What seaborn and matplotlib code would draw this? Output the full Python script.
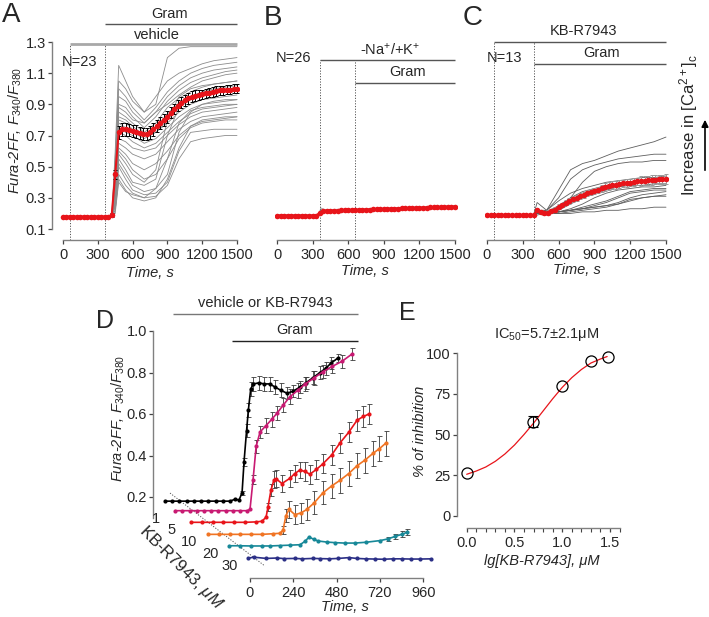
import numpy as np
import pandas as pd
import matplotlib
matplotlib.use("Agg")
import matplotlib.pyplot as plt
import seaborn as sns

# ---------------- data ----------------
# A: vehicle at 60 s, gramicidin at 360 s, single cells (N=23)
a_time = [0, 420, 450, 480, 540, 600, 700, 800, 900, 1000, 1100, 1200, 1300, 1400, 1500]
a_cells = [
    [.18, .18, .60, 1.15, 1.05, .95, .85, .90, 1.20, 1.26, 1.27, 1.27, 1.27, 1.27, 1.27],
    [.18, .18, .55, 1.05, 1.00, .92, .85, .95, 1.05, 1.10, 1.13, 1.16, 1.18, 1.19, 1.20],
    [.18, .18, .50, 1.00, .95, .88, .80, .88, .98, 1.05, 1.10, 1.13, 1.15, 1.16, 1.17],
    [.18, .18, .45, .95, .92, .85, .78, .85, .95, 1.02, 1.07, 1.10, 1.12, 1.13, 1.14],
    [.18, .18, .45, .90, .88, .82, .75, .82, .92, .99, 1.04, 1.07, 1.09, 1.11, 1.12],
    [.18, .18, .40, .88, .85, .80, .78, .85, .90, .96, 1.01, 1.05, 1.07, 1.09, 1.10],
    [.18, .18, .40, .85, .82, .78, .72, .78, .88, .94, .98, 1.01, 1.03, 1.04, 1.05],
    [.18, .18, .40, .82, .80, .76, .70, .75, .84, .91, .95, .98, 1.00, 1.01, 1.02],
    [.18, .18, .38, .80, .78, .74, .70, .72, .80, .88, .93, .96, .97, .98, .99],
    [.18, .18, .35, .78, .75, .72, .68, .72, .78, .85, .90, .93, .94, .95, .96],
    [.18, .18, .35, .75, .72, .70, .65, .68, .75, .82, .87, .90, .91, .92, .93],
    [.18, .18, .33, .72, .70, .66, .62, .65, .72, .79, .84, .87, .88, .89, .90],
    [.18, .18, .30, .68, .66, .62, .60, .62, .70, .77, .82, .85, .86, .87, .88],
    [.18, .18, .30, .65, .62, .58, .55, .58, .66, .74, .79, .82, .83, .84, .85],
    [.18, .18, .28, .62, .58, .52, .48, .52, .60, .70, .76, .79, .80, .81, .82],
    [.18, .18, .28, .60, .55, .48, .42, .45, .55, .68, .75, .78, .79, .80, .80],
    [.18, .18, .26, .58, .52, .45, .40, .48, .80, .95, 1.00, 1.02, 1.03, 1.04, 1.05],
    [.18, .18, .26, .55, .48, .40, .38, .42, .70, .88, .95, .98, .99, .99, 1.00],
    [.18, .18, .25, .52, .45, .38, .34, .36, .45, .72, .85, .90, .92, .93, .93],
    [.18, .18, .24, .50, .42, .35, .32, .33, .40, .60, .72, .73, .74, .74, .74],
    [.18, .18, .22, .45, .38, .33, .30, .31, .38, .55, .66, .68, .69, .70, .70],
    [.18, .18, .22, .42, .35, .30, .28, .30, .42, .62, .76, .80, .81, .82, .82],
    [.18, .18, .20, .40, .34, .32, .30, .36, .55, .78, .86, .88, .89, .90, .90],
]
mean_time = list(range(0, 1501, 30))
a_mean = [.18, .18, .18, .18, .18, .18, .18, .18, .18, .18, .18, .18, .18, .18,
          .19, .45, .72, .74, .74, .735, .73, .725, .715, .71, .71, .72, .74, .76, .78, .80,
          .82, .845, .87, .89, .91, .925, .94, .95, .955, .96, .965, .97, .975, .98, .985,
          .99, .99, .995, .995, 1.0, 1.0]
a_sem = [0, 0, 0, 0, 0, 0, 0, 0, 0, 0, 0, 0, 0, 0,
         .01, .03, .04, .04, .04, .04, .04, .04, .04, .04, .04, .04, .04, .04, .04, .04,
         .04, .035, .035, .035, .035, .035, .035, .035, .035, .03, .03, .03, .03, .03, .03,
         .03, .03, .03, .03, .03, .03]

# B: -Na+/+K+ at 360 s, gramicidin at 660 s (N=26)
b_time = [0, 350, 370, 400, 660, 900, 1100, 1300, 1500]
b_cells = [
    [.19, .19, .235, .225, .228, .235, .24, .245, .25],
    [.18, .18, .21, .21, .215, .22, .225, .23, .235],
    [.185, .185, .215, .215, .22, .23, .235, .24, .245],
    [.19, .19, .22, .222, .226, .232, .238, .242, .248],
    [.18, .18, .205, .207, .212, .218, .224, .228, .232],
    [.185, .185, .212, .214, .22, .226, .232, .236, .24],
    [.19, .19, .225, .22, .224, .23, .236, .24, .244],
    [.182, .182, .208, .21, .218, .225, .23, .234, .238],
    [.188, .188, .218, .218, .222, .228, .234, .24, .246],
    [.183, .183, .21, .212, .216, .222, .228, .233, .237],
]
b_mean = [.185, .185, .185, .185, .185, .185, .185, .185, .185, .185, .185, .185, .205,
          .215, .216, .217, .217, .218, .219, .220, .220, .221, .222, .223, .224, .224,
          .225, .226, .227, .227, .228, .229, .230, .230, .231, .232, .233, .233, .234,
          .235, .236, .236, .237, .238, .239, .239, .240, .241, .242, .242, .243]

# C: KB-R7943 at 60 s, gramicidin at 395 s (N=13)
c_time = [0, 390, 420, 500, 600, 700, 800, 900, 1000, 1100, 1200, 1300, 1400, 1500]
c_cells = [
    [.19, .19, .22, .22, .35, .48, .52, .54, .57, .60, .62, .64, .66, .69],
    [.19, .19, .21, .22, .30, .42, .48, .51, .53, .55, .56, .57, .58, .58],
    [.19, .19, .20, .21, .24, .30, .40, .47, .50, .52, .53, .53, .54, .54],
    [.19, .19, .27, .22, .28, .33, .36, .38, .40, .41, .42, .43, .43, .44],
    [.19, .19, .20, .21, .25, .30, .34, .36, .38, .39, .40, .41, .41, .41],
    [.19, .19, .20, .20, .22, .26, .30, .33, .35, .37, .38, .38, .39, .39],
    [.19, .19, .20, .20, .21, .23, .26, .30, .33, .35, .36, .37, .37, .38],
    [.19, .19, .20, .20, .21, .22, .24, .26, .28, .31, .34, .35, .36, .36],
    [.19, .19, .20, .20, .21, .22, .23, .25, .27, .30, .33, .34, .35, .35],
    [.19, .19, .20, .20, .21, .22, .23, .24, .25, .27, .30, .32, .33, .34],
    [.19, .19, .20, .20, .21, .22, .23, .24, .25, .26, .28, .30, .31, .32],
    [.19, .19, .20, .20, .20, .21, .22, .23, .24, .26, .29, .30, .31, .31],
    [.19, .19, .19, .20, .20, .20, .21, .21, .22, .22, .23, .23, .24, .24],
]
c_mean = [.19, .19, .19, .19, .19, .19, .19, .19, .19, .19, .19, .19, .19, .19,
          .22, .21, .20, .205, .215, .225, .243, .255, .268, .28, .292, .30, .31, .32,
          .33, .338, .345, .352, .36, .368, .375, .38, .384, .388, .392, .395, .398, .40,
          .405, .408, .41, .412, .414, .416, .418, .419, .42]
c_sem = [0, 0, 0, 0, 0, 0, 0, 0, 0, 0, 0, 0, 0, 0,
         .01, .01, .01, .015, .015, .015, .015, .015, .015, .02, .02, .02, .02, .02, .02,
         .02, .02, .02, .02, .025, .025, .025, .025, .025, .025, .025, .025, .025, .025,
         .03, .03, .03, .03, .03, .03, .03, .03]

# D: mean traces, vehicle and KB-R7943 1..30 uM (each in its own time frame)
d_names = ["0", "1", "5", "10", "20", "30"]
d_time = [
    [0, 40, 80, 120, 160, 200, 240, 280, 320, 360, 390, 410, 427, 438, 452, 462, 475, 490,
     520, 550, 580, 610, 640, 676, 710, 748, 780, 820, 859, 890, 920, 958],
    [0, 40, 80, 120, 160, 200, 240, 280, 320, 360, 400, 415, 432, 449, 471, 504, 535, 565,
     600, 637, 680, 720, 770, 820, 870, 925, 980],
    [0, 60, 120, 180, 240, 300, 360, 393, 416, 427, 443, 460, 471, 504, 548, 575, 604, 630,
     659, 695, 731, 780, 825, 875, 920, 955, 986],
    [0, 60, 120, 180, 240, 300, 360, 399, 416, 432, 449, 482, 515, 548, 590, 637, 685, 731,
     780, 825, 870, 914, 950, 986],
    [0, 60, 120, 180, 227, 280, 340, 393, 420, 443, 470, 493, 540, 587, 640, 698, 760, 837,
     880, 920, 960, 986],
    [0, 30, 100, 160, 200, 260, 300, 360, 400, 450, 500, 560, 600, 650, 700, 750, 800, 850,
     900, 950, 1015],
]
d_value = [
    [.18, .18, .18, .18, .18, .18, .18, .18, .18, .18, .19, .185, .22, .37, .52, .62, .72,
     .745, .75, .745, .745, .73, .715, .70, .71, .73, .75, .775, .80, .82, .845, .87],
    [.18, .18, .18, .18, .18, .18, .18, .18, .18, .18, .18, .186, .33, .49, .56, .59, .62,
     .65, .69, .73, .76, .79, .82, .85, .875, .90, .935],
    [.175, .175, .175, .175, .175, .175, .177, .18, .20, .25, .33, .38, .385, .362, .387,
     .41, .427, .42, .407, .43, .457, .50, .557, .61, .667, .685, .697],
    [.177, .177, .177, .177, .177, .177, .18, .182, .197, .267, .297, .272, .28, .297, .33,
     .377, .41, .437, .47, .507, .535, .567, .59, .617],
    [.179, .179, .178, .178, .178, .18, .182, .184, .20, .221, .21, .202, .197, .194, .192,
     .192, .196, .204, .212, .224, .235, .244],
    [.179, .184, .178, .18, .177, .178, .176, .178, .177, .176, .178, .182, .178, .176,
     .175, .174, .176, .176, .175, .175, .176],
]
d_sem = [
    [0, 0, 0, 0, 0, 0, 0, 0, 0, 0, 0, 0, .01, .02, .03, .035, .035, .035, .035, .035, .035,
     .035, .035, .03, .03, .03, .03, .03, .03, .03, .03, .02],
    [0, 0, 0, 0, 0, 0, 0, 0, 0, 0, 0, 0, .02, .03, .03, .035, .035, .035, .035, .035, .035,
     .035, .035, .03, .03, .03, .03],
    [0, 0, 0, 0, 0, 0, 0, 0, 0, .02, .03, .04, .04, .04, .04, .04, .04, .045, .045, .045,
     .045, .05, .05, .05, .05, .05, .05],
    [0, 0, 0, 0, 0, 0, 0, 0, .02, .03, .04, .045, .05, .05, .055, .055, .06, .06, .06, .06,
     .06, .06, .06, .06],
    [0, 0, 0, 0, 0, 0, 0, 0, 0, 0, 0, 0, 0, 0, 0, 0, 0, 0, .01, .01, .015, .015],
    [0, 0, 0, 0, 0, 0, 0, 0, 0, 0, 0, 0, 0, 0, 0, 0, 0, 0, 0, 0, 0],
]

# E: concentration response
e_lgconc = [0.0, 0.699, 1.0, 1.301, 1.477]
e_inhib = [26, 58, 80, 95, 98]
e_err = [0, 3.5, 0, 0, 0]
fit_x = [0.0, 0.1, 0.2, 0.3, 0.4, 0.5, 0.6, 0.7, 0.8, 0.9, 1.0, 1.1, 1.2, 1.3, 1.4, 1.47]
fit_y = [25.5, 27.5, 30, 33.5, 38, 43.5, 50, 57, 64.5, 72, 79, 85, 90, 94, 96.5, 98]

# ---------------- style ----------------
sns.set_theme(style="ticks")
plt.rcParams["font.family"] = ["Liberation Sans", "DejaVu Sans"]
plt.rcParams["mathtext.fontset"] = "custom"
plt.rcParams["mathtext.rm"] = "Liberation Sans"
plt.rcParams["mathtext.it"] = "Liberation Sans:italic"
plt.rcParams["mathtext.bf"] = "Liberation Sans:bold"

RED = "#e8141a"
d_colors = ["#000000", "#c81a72", "#e8141a", "#f07424", "#178898", "#2b2f86"]
# horizontal / vertical stacking of the D traces (layout only)
d_dx = [-471, -415, -327, -233, -116, -10]
d_dy = [0, -0.046, -0.097, -0.157, -0.214, -0.274]

W, H = 709, 617
fig = plt.figure(figsize=(W / 100, H / 100), dpi=100)


def px_axes(xmap, ymap, xlim, ylim):
    (xv0, xp0), (xv1, xp1) = xmap
    (yv0, yp0), (yv1, yp1) = ymap
    sx = (xp1 - xp0) / (xv1 - xv0)
    sy = (yp1 - yp0) / (yv1 - yv0)
    left = xp0 + (xlim[0] - xv0) * sx
    right = xp0 + (xlim[1] - xv0) * sx
    bottom = yp0 + (ylim[0] - yv0) * sy
    top = yp0 + (ylim[1] - yv0) * sy
    ax = fig.add_axes([left / W, 1 - bottom / H, (right - left) / W, (bottom - top) / H])
    ax.set_xlim(xlim)
    ax.set_ylim(ylim)
    ax.patch.set_alpha(0)
    for s in ["top", "right"]:
        ax.spines[s].set_visible(False)
    for s in ["left", "bottom"]:
        ax.spines[s].set_color("#808080")
        ax.spines[s].set_linewidth(1.0)
    ax.tick_params(labelsize=10.5, length=3, width=0.9, color="#444444", pad=1.5)
    ax.tick_params(axis="x", pad=2.5)
    return ax


def ftext(x, y, s, **kw):
    return fig.text(x / W, 1 - y / H, s, **kw)


def place_labels(ax, xpos=None, ypos=None):
    if xpos is not None:
        ax.xaxis.set_label_coords(xpos[0] / W, 1 - xpos[1] / H, transform=fig.transFigure)
        ax.xaxis.label.set_va("center")
    if ypos is not None:
        ax.yaxis.set_label_coords(ypos[0] / W, 1 - ypos[1] / H, transform=fig.transFigure)
        ax.yaxis.label.set_va("center")


def long_frame(times, cells):
    rows = []
    for i, tr in enumerate(cells):
        for t, v in zip(times, tr):
            rows.append((i, t, v))
    return pd.DataFrame(rows, columns=["cell", "t", "v"])


def bar(ax, x0, x1, y, color="#555555", lw=1.0):
    ax.plot([x0, x1], [y, y], color=color, lw=lw, clip_on=False, solid_capstyle="butt")


def vdot(ax, x, y0, y1):
    ax.plot([x, x], [y0, y1], color="#555555", lw=0.7, ls=(0, (1.2, 1.6)), clip_on=False)


def mean_trace(ax, t, m, sem=None, ecolor="black"):
    t = np.asarray(t)
    m = np.asarray(m)
    if sem is not None:
        sem = np.asarray(sem)
        k = sem > 0
        ax.errorbar(t[k], m[k], yerr=sem[k], fmt="none", ecolor=ecolor, elinewidth=0.7,
                    capsize=1.6, capthick=0.7, zorder=3)
    sns.lineplot(x=t, y=m, ax=ax, color=RED, lw=1.5, marker="o", markersize=4,
                 markeredgewidth=0, zorder=4)


ymap_top = ((0.1, 229), (1.3, 42))
LAB = dict(fontsize=10.5, fontstyle="italic")
time_label = "Time, s"
fura_label = r"Fura-2FF, $\mathit{F_{340}/F_{380}}$"

# ---------------- A ----------------
axA = px_axes(((0, 63), (1500, 237)), ymap_top, (-95, 1520), (0.0294, 1.32))
sns.lineplot(data=long_frame(a_time, a_cells), x="t", y="v", units="cell", estimator=None,
             ax=axA, color="#8c8c8c", lw=0.6, zorder=1)
mean_trace(axA, mean_time, a_mean, a_sem)
axA.spines["left"].set_bounds(0.1, 1.3)
axA.spines["bottom"].set_bounds(0, 1500)
axA.set_yticks([0.1, 0.3, 0.5, 0.7, 0.9, 1.1, 1.3])
axA.set_xticks([0, 300, 600, 900, 1200, 1500])
axA.set_xlabel(time_label, **LAB)
axA.set_ylabel(fura_label, **LAB)
place_labels(axA, (150, 273), (15, 130))
bar(axA, 60, 1500, 1.285, color="#a8a8a8", lw=2.0)
bar(axA, 360, 1500, 1.414)
axA.text(922, 1.48, "Gram", ha="center", va="center", fontsize=10.5)
axA.text(810, 1.345, "vehicle", ha="center", va="center", fontsize=10.5)
axA.text(-10, 1.172, "N=23", ha="left", va="center", fontsize=10.5)
vdot(axA, 60, 0.0294, 1.285)
vdot(axA, 360, 0.0294, 1.285)

# ---------------- B ----------------
axB = px_axes(((0, 277), (1500, 455)), ymap_top, (-20, 1520), (0.0294, 1.32))
sns.lineplot(data=long_frame(b_time, b_cells), x="t", y="v", units="cell", estimator=None,
             ax=axB, color="#9a9a9a", lw=0.6, zorder=1)
mean_trace(axB, mean_time, b_mean)
axB.spines["left"].set_visible(False)
axB.set_yticks([])
axB.spines["bottom"].set_bounds(0, 1500)
axB.set_xticks([0, 300, 600, 900, 1200, 1500])
axB.set_xlabel(time_label, **LAB)
axB.set_ylabel("")
place_labels(axB, (365, 271))
bar(axB, 360, 1500, 1.183)
bar(axB, 660, 1500, 1.035)
axB.text(950, 1.249, r"-Na$^{+}$/+K$^{+}$", ha="center", va="center", fontsize=10.5)
axB.text(1104, 1.108, "Gram", ha="center", va="center", fontsize=10.5)
axB.text(-8, 1.20, "N=26", ha="left", va="center", fontsize=10.5)
vdot(axB, 360, 0.0294, 1.183)
vdot(axB, 660, 0.0294, 1.183)

# ---------------- C ----------------
axC = px_axes(((0, 487), (1500, 666)), ymap_top, (-20, 1520), (0.0294, 1.32))
sns.lineplot(data=long_frame(c_time, c_cells), x="t", y="v", units="cell", estimator=None,
             ax=axC, color="#5e5e5e", lw=0.6, zorder=1)
mean_trace(axC, mean_time, c_mean, c_sem, ecolor="#9a9a9a")
axC.spines["left"].set_visible(False)
axC.set_yticks([])
axC.spines["bottom"].set_bounds(0, 1500)
axC.set_xticks([0, 300, 600, 900, 1200, 1500])
axC.set_xlabel(time_label, **LAB)
axC.set_ylabel("")
place_labels(axC, (577, 270))
bar(axC, 60, 1500, 1.302)
bar(axC, 395, 1500, 1.157)
axC.text(809, 1.371, "KB-R7943", ha="center", va="center", fontsize=10.5)
axC.text(964, 1.228, "Gram", ha="center", va="center", fontsize=10.5)
axC.text(-3, 1.20, "N=13", ha="left", va="center", fontsize=10.5)
vdot(axC, 60, 0.0294, 1.302)
vdot(axC, 395, 0.0294, 1.302)

ftext(689, 125, r"Increase in [Ca$^{2+}$]$_{\rm c}$", rotation=90, ha="center",
      va="center", fontsize=12)
fig.add_artist(matplotlib.patches.FancyArrowPatch(
    (705 / W, 1 - 173 / H), (705 / W, 1 - 117 / H), transform=fig.transFigure,
    arrowstyle="-|>", mutation_scale=10, color="black", lw=1.2))

# ---------------- D ----------------
axD = px_axes(((0, 250), (960, 423.3)), ((0.2, 497), (1.0, 331)), (-535, 1030), (-0.19, 1.03))
for name, t, v, e, c, dx, dy in zip(d_names, d_time, d_value, d_sem, d_colors, d_dx, d_dy):
    t = np.asarray(t) + dx
    v = np.asarray(v) + dy
    e = np.asarray(e)
    k = e > 0
    if k.any():
        axD.errorbar(t[k], v[k], yerr=e[k], fmt="none", ecolor="#3a3a3a", elinewidth=0.6,
                     capsize=1.8, capthick=0.6, zorder=2)
    sns.lineplot(x=t, y=v, ax=axD, color=c, lw=1.2, marker="o", markersize=3,
                 markeredgewidth=0, zorder=3)
    if name != "0":
        axD.annotate(name, (t[0], v[0]), xytext=(-19, -8), textcoords="offset pixels",
                     ha="center", va="center", fontsize=10.5)
axD.plot([-443, 83], [0.219, -0.133], color="#555555", lw=0.7, ls=(0, (1.2, 1.6)), zorder=1)
axD.spines["left"].set_bounds(0.1, 1.0)
axD.spines["bottom"].set_bounds(0, 960)
axD.set_yticks([0.2, 0.4, 0.6, 0.8, 1.0])
axD.set_xticks([0, 240, 480, 720, 960])
axD.set_xlabel(time_label, **LAB)
axD.set_ylabel(fura_label, **LAB)
place_labels(axD, (345, 607), (118, 418))
bar(axD, -428, 600, 1.08, color="#777777")
bar(axD, -101, 600, 0.952, color="#222222")
axD.text(83, 1.135, "vehicle or KB-R7943", ha="center", va="center", fontsize=10.5)
axD.text(249, 1.005, "Gram", ha="center", va="center", fontsize=10.5)
ftext(181, 567, r"KB-R7943, $\mathit{\mu M}$", rotation=-45, ha="center", va="center",
      fontsize=12)

# ---------------- E ----------------
axE = px_axes(((0, 466.7), (1.5, 610)), ((0, 515.7), (100, 353.3)), (-0.1015, 1.62), (-7.76, 103))
sns.lineplot(x=fit_x, y=fit_y, ax=axE, color=RED, lw=0.9, zorder=2)
ex = np.asarray(e_lgconc)
ey = np.asarray(e_inhib)
ee = np.asarray(e_err)
k = ee > 0
axE.errorbar(ex[k], ey[k], yerr=ee[k], fmt="none", ecolor="black", elinewidth=0.8,
             capsize=3.5, capthick=0.8, zorder=3)
axE.plot(ex, ey, ls="none", marker="o", ms=8, mfc="none", mec="black", mew=0.9, zorder=4)
axE.spines["left"].set_bounds(0, 100)
axE.spines["bottom"].set_bounds(0, 1.6)
axE.set_yticks([0, 25, 50, 75, 100])
axE.set_xticks([0.0, 0.5, 1.0, 1.5])
axE.set_xticklabels(["0.0", "0.5", "1.0", "1.5"])
axE.set_xticks(np.arange(0, 1.65, 0.1), minor=True)
axE.tick_params(axis="x", which="minor", length=3, width=0.8, color="#444444")
axE.set_xlabel("lg[KB-R7943], μM", **LAB)
axE.set_ylabel("% of inhibition", **LAB)
place_labels(axE, (542, 561), (420, 431))
axE.text(0.84, 111.3, r"IC$_{50}$=5.7±2.1μM", ha="center", va="center", fontsize=10.5)

# panel letters
ftext(2, 22, "A", fontsize=20, va="baseline")
ftext(264, 25, "B", fontsize=20, va="baseline")
ftext(463, 25, "C", fontsize=20, va="baseline")
ftext(96, 328, "D", fontsize=18, va="baseline")
ftext(399, 320, "E", fontsize=18, va="baseline")

fig.savefig("out.png", dpi=100, facecolor="white")
